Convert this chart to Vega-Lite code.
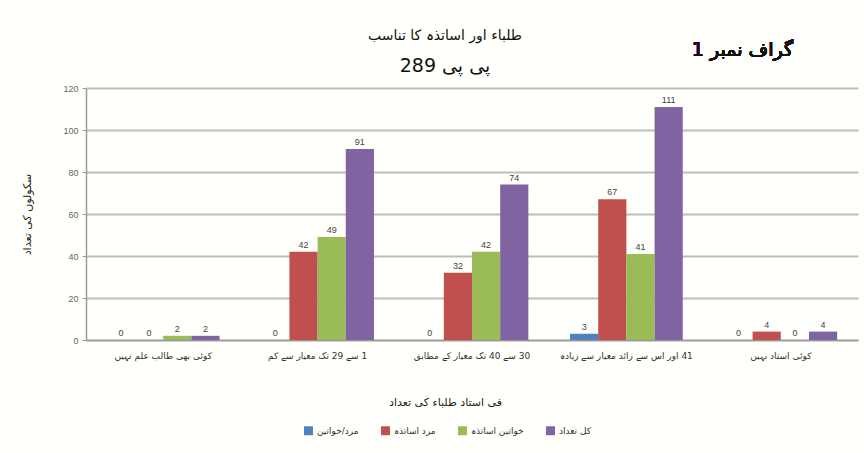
{
  "$schema": "https://vega.github.io/schema/vega-lite/v6.json",
  "width": 772,
  "height": 252,
  "autosize": {"type": "none"},
  "padding": {"left": 86, "top": 88, "right": 6, "bottom": 113},
  "background": "#fffffb",
  "config": {
    "view": {"stroke": null},
    "font": "DejaVu Sans"
  },
  "title": {
    "text": "طلباء اور اساتذہ کا تناسب",
    "subtitle": "پی پی 289",
    "anchor": "middle",
    "dx": -27,
    "dy": 47,
    "offset": 12,
    "font": "DejaVu Sans",
    "fontSize": 14,
    "fontWeight": "normal",
    "color": "#111",
    "subtitleFont": "DejaVu Sans",
    "subtitleFontSize": 19,
    "subtitleColor": "#111",
    "subtitlePadding": 14
  },
  "data": {
    "values": [
      {"category": "کوئی بھی طالب علم نہیں", "series": "مرد/خواتین", "value": 0},
      {"category": "کوئی بھی طالب علم نہیں", "series": "مرد اساتذہ", "value": 0},
      {"category": "کوئی بھی طالب علم نہیں", "series": "خواتین اساتذہ", "value": 2},
      {"category": "کوئی بھی طالب علم نہیں", "series": "کل تعداد", "value": 2},
      {"category": "1 سے 29 تک معیار سے کم", "series": "مرد/خواتین", "value": 0},
      {"category": "1 سے 29 تک معیار سے کم", "series": "مرد اساتذہ", "value": 42},
      {"category": "1 سے 29 تک معیار سے کم", "series": "خواتین اساتذہ", "value": 49},
      {"category": "1 سے 29 تک معیار سے کم", "series": "کل تعداد", "value": 91},
      {"category": "30 سے 40 تک معیار کے مطابق", "series": "مرد/خواتین", "value": 0},
      {"category": "30 سے 40 تک معیار کے مطابق", "series": "مرد اساتذہ", "value": 32},
      {"category": "30 سے 40 تک معیار کے مطابق", "series": "خواتین اساتذہ", "value": 42},
      {"category": "30 سے 40 تک معیار کے مطابق", "series": "کل تعداد", "value": 74},
      {"category": "41 اور اس سے زائد معیار سے زیادہ", "series": "مرد/خواتین", "value": 3},
      {"category": "41 اور اس سے زائد معیار سے زیادہ", "series": "مرد اساتذہ", "value": 67},
      {"category": "41 اور اس سے زائد معیار سے زیادہ", "series": "خواتین اساتذہ", "value": 41},
      {"category": "41 اور اس سے زائد معیار سے زیادہ", "series": "کل تعداد", "value": 111},
      {"category": "کوئی استاد نہیں", "series": "مرد/خواتین", "value": 0},
      {"category": "کوئی استاد نہیں", "series": "مرد اساتذہ", "value": 4},
      {"category": "کوئی استاد نہیں", "series": "خواتین اساتذہ", "value": 0},
      {"category": "کوئی استاد نہیں", "series": "کل تعداد", "value": 4}
    ]
  },
  "encoding": {
    "x": {
      "field": "category",
      "type": "nominal",
      "sort": null,
      "scale": {"paddingInner": 0.27, "paddingOuter": 0.135},
      "axis": {
        "title": "فی استاد طلباء کی تعداد",
        "titleFont": "DejaVu Sans",
        "titleFontSize": 11,
        "titleFontWeight": "normal",
        "titleColor": "#222",
        "titlePadding": 36,
        "titleX": 359,
        "labelAngle": 0,
        "labelExpr": "'\u200F' + datum.label",
        "labelFont": "DejaVu Sans",
        "labelFontSize": 9,
        "labelColor": "#333",
        "labelPadding": 11,
        "labelOverlap": false,
        "labelLimit": 0,
        "ticks": false,
        "domainColor": "#9a9a9a",
        "domainWidth": 1.5
      }
    },
    "xOffset": {
      "field": "series",
      "type": "nominal",
      "sort": ["مرد/خواتین", "مرد اساتذہ", "خواتین اساتذہ", "کل تعداد"]
    },
    "y": {
      "field": "value",
      "type": "quantitative",
      "scale": {"domain": [0, 120]},
      "axis": {
        "title": "سکولوں کی تعداد",
        "titleFont": "DejaVu Sans",
        "titleFontSize": 11,
        "titleFontWeight": "normal",
        "titleColor": "#222",
        "titlePadding": 30,
        "values": [0, 20, 40, 60, 80, 100, 120],
        "labelFont": "Liberation Sans",
        "labelFontSize": 9,
        "labelColor": "#666",
        "labelPadding": 4,
        "tickColor": "#9a9a9a",
        "tickSize": 4,
        "domainColor": "#9a9a9a",
        "domainWidth": 1.5,
        "gridColor": "#bdbdbd",
        "gridWidth": 2
      }
    }
  },
  "layer": [
    {
      "mark": {"type": "bar"},
      "encoding": {
        "color": {
          "field": "series",
          "type": "nominal",
          "scale": {
            "domain": ["مرد/خواتین", "مرد اساتذہ", "خواتین اساتذہ", "کل تعداد"],
            "range": ["#4F81BD", "#C0504D", "#9BBB59", "#8064A2"]
          },
          "legend": {
            "title": null,
            "orient": "none",
            "direction": "horizontal",
            "legendX": 218,
            "legendY": 338,
            "columns": 4,
            "symbolType": "square",
            "symbolSize": 80,
            "symbolStrokeWidth": 0,
            "labelFont": "DejaVu Sans",
            "labelFontSize": 9,
            "labelColor": "#333",
            "columnPadding": 22
          }
        }
      }
    },
    {
      "mark": {"type": "text", "dy": -7, "fontSize": 9, "font": "Liberation Sans", "color": "#444"},
      "encoding": {
        "text": {"field": "value", "type": "quantitative"}
      }
    },
    {
      "mark": {"type": "text", "fontSize": 19, "font": "DejaVu Sans", "fontWeight": "normal", "color": "#111", "dx": 18},
      "encoding": {
        "x": {"datum": "کوئی استاد نہیں"},
        "y": {"datum": 138},
        "xOffset": {"value": 0},
        "text": {"value": "گراف نمبر 1"}
      }
    }
  ]
}
